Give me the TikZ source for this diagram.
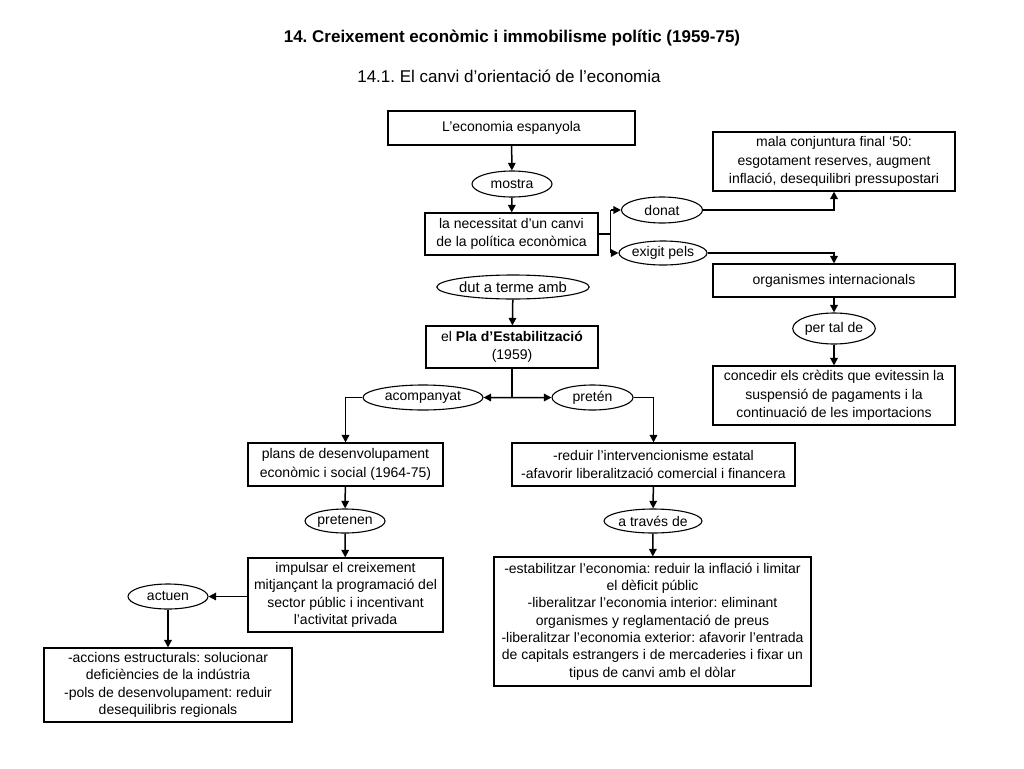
\documentclass[tikz,border=0pt]{standalone}
\usepackage{fontspec}
\setmainfont{Liberation Sans}
\usetikzlibrary{shapes.geometric,arrows.meta}
\frenchspacing
\tikzset{
  box/.style={draw,line width=1.1pt,inner sep=0pt,align=center,font=\fontsize{14}{18.5}\selectfont},
  tight/.style={font=\fontsize{14}{17.3}\selectfont},
  oval/.style={draw,ellipse,line width=1.1pt,inner sep=0pt,font=\fontsize{14}{17}\selectfont},
  arr/.style={line width=1.5pt,-{Triangle[length=7.5pt,width=7.5pt]}},
  ln/.style={line width=1.5pt}
}
\begin{document}
\begin{tikzpicture}[x=1pt,y=-1pt]
\useasboundingbox (0,0) rectangle (1024,768);
\node[font=\fontsize{17}{20}\selectfont\bfseries] (title) at (512,38) {14. Creixement econòmic i immobilisme polític (1959-75)};
\node[font=\fontsize{17}{20}\selectfont] (sub) at (509,76) {14.1. El canvi d’orientació de l’economia};

\node[box,minimum width=247,minimum height=34] (eco) at (511.5,128) {L’economia espanyola};
\node[oval,minimum width=80,minimum height=26] (mostra) at (512,184) {mostra};
\node[box,minimum width=173,minimum height=42] (nec) at (511.5,234) {la necessitat d’un canvi\\de la política econòmica};
\node[oval,minimum width=81,minimum height=26] (donat) at (662,210) {donat};
\node[oval,minimum width=82,minimum height=24] (exig) at (663,253) {exigit pels};
\node[box,minimum width=242,minimum height=59] (mala) at (834,161.5) {mala conjuntura final ‘50:\\esgotament reserves, augment\\inflació, desequilibri pressupostari};
\node[box,minimum width=242,minimum height=33] (org) at (834,280.5) {organismes internacionals};
\node[oval,minimum width=82,minimum height=31] (pertal) at (834,328.5) {per tal de};
\node[box,minimum width=242,minimum height=59] (conc) at (834,395.5) {concedir els crèdits que evitessin la\\suspensió de pagaments i la\\continuació de les importacions};

\node[oval,minimum width=124,minimum height=24,font=\fontsize{14.8}{17}\selectfont] (dut) at (513,287) {dut a terme amb};
\node[box,minimum width=172,minimum height=42] (pla) at (512,347) {el \textbf{Pla d’Estabilització}\\(1959)};
\node[oval,minimum width=120,minimum height=25] (acomp) at (423,397.5) {acompanyat};
\node[oval,minimum width=81,minimum height=25] (preten) at (592.5,397.5) {pretén};

\node[box,minimum width=195,minimum height=43] (plans) at (345.5,464.5) {plans de desenvolupament\\econòmic i social (1964-75)};
\node[oval,minimum width=80,minimum height=24] (pretenen) at (345,521) {pretenen};
\node[box,tight,minimum width=195,minimum height=74] (imp) at (345.5,595) {impulsar el creixement\\mitjançant la programació del\\sector públic i incentivant\\l’activitat privada};
\node[oval,minimum width=80,minimum height=25] (actuen) at (168,596.5) {actuen};
\node[box,tight,minimum width=248,minimum height=74] (acc) at (168,685) {-accions estructurals: solucionar\\deficiències de la indústria\\-pols de desenvolupament: reduir\\desequilibris regionals};

\node[box,minimum width=283,minimum height=43] (red) at (653.5,464.5) {-reduir l’intervencionisme estatal\\-afavorir liberalització comercial i financera};
\node[oval,minimum width=82,minimum height=24] (atr) at (653,521) {a través de};
\node[box,tight,minimum width=317,minimum height=129] (est) at (652.5,621.5) {-estabilitzar l’economia: reduir la inflació i limitar\\el dèficit públic\\-liberalitzar l’economia interior: eliminant\\organismes y reglamentació de preus\\-liberalitzar l’economia exterior: afavorir l’entrada\\de capitals estrangers i de mercaderies i fixar un\\tipus de canvi amb el dòlar};

\draw[arr] (eco) -- (mostra);
\draw[arr] (mostra) -- (nec);
\draw[ln] (nec.east) -- ++(12,0) coordinate (j1);
\draw[ln] (j1 |- donat.west) -- (j1 |- exig.west);
\draw[arr] (j1 |- donat.west) -- (donat.west);
\draw[arr] (j1 |- exig.west) -- (exig.west);
\draw[arr] (donat.east) -| (mala.south);
\draw[arr] (exig.east) -| (org.north);
\draw[arr] (org) -- (pertal);
\draw[arr] (pertal) -- (conc);

\draw[arr] (dut) -- (pla);
\draw[ln] (pla.south) -- ++(0,29) coordinate (j2);
\draw[arr] (j2) -- (acomp.east);
\draw[arr] (j2) -- (preten.west);
\draw[arr] (acomp.west) -| (plans.north);
\draw[arr] (preten.east) -| (red.north);
\draw[arr] (plans) -- (pretenen);
\draw[arr] (pretenen) -- (imp);
\draw[arr] (imp.west |- actuen.east) -- (actuen.east);
\draw[arr] (actuen) -- (acc);
\draw[arr] (red) -- (atr);
\draw[arr] (atr) -- (est);
\end{tikzpicture}
\end{document}
